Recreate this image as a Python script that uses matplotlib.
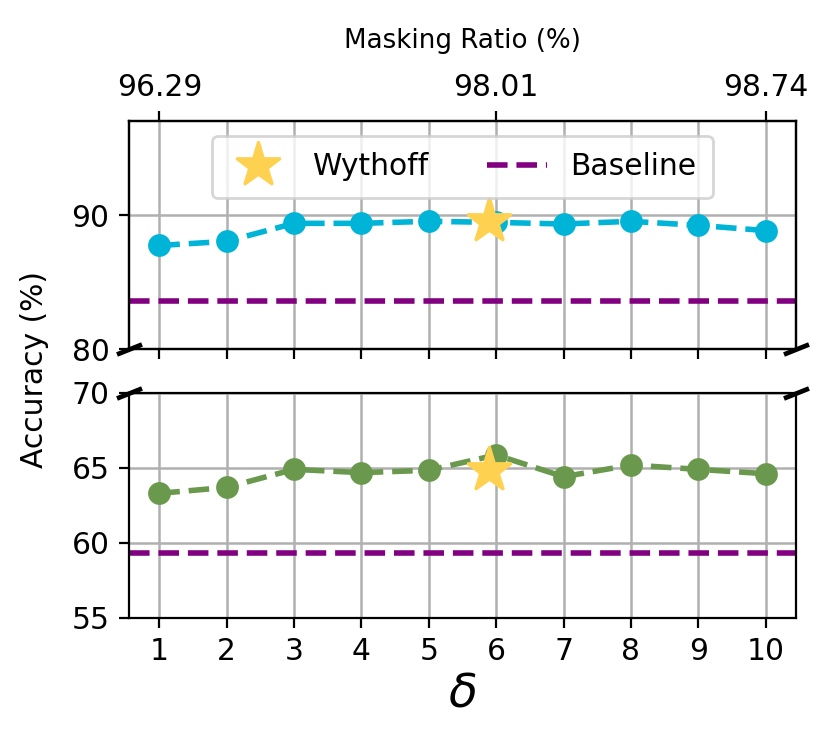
import matplotlib
matplotlib.use("Agg")
import matplotlib.pyplot as plt

delta = [1, 2, 3, 4, 5, 6, 7, 8, 9, 10]
top_acc = [87.73, 88.04, 89.38, 89.38, 89.53, 89.45, 89.33, 89.53, 89.23, 88.84]
bottom_acc = [63.29, 63.69, 64.89, 64.67, 64.83, 65.85, 64.40, 65.18, 64.89, 64.60]
top_baseline = 83.58
bottom_baseline = 59.29
wythoff_x = 5.9
wythoff_top = 89.53
wythoff_bottom = 64.85
mask_ticks = [1, 6, 10]
mask_labels = ["96.29", "98.01", "98.74"]

CYAN = "#00B4D8"
GREEN = "#6A994E"
GOLD = "#FFD150"
PURPLE = "purple"

fig = plt.figure(figsize=(8.30 / 2, 7.48 / 2), dpi=200)
L, R = 129 / 830, 796 / 830
ax1 = fig.add_axes([L, 1 - 349.3 / 748, R - L, (349.3 - 121) / 748])
ax2 = fig.add_axes([L, 1 - 617.7 / 748, R - L, (617.7 - 392.7) / 748])

FS = 10.7
for ax, vals, base, wy, col in [(ax1, top_acc, top_baseline, wythoff_top, CYAN),
                                (ax2, bottom_acc, bottom_baseline, wythoff_bottom, GREEN)]:
    ax.grid(True, color="#b0b0b0", lw=0.9, zorder=0)
    ax.set_axisbelow(True)
    ax.plot(delta, vals, ls="--", lw=2, color=col, marker="o", ms=7.2, zorder=3)
    ax.axhline(base, ls="--", lw=2, color=PURPLE, zorder=2, label="Baseline")
    ax.plot([wythoff_x], [wy], ls="none", marker="*", ms=17, color=GOLD, zorder=4, label="Wythoff")
    ax.set_xlim(0.55, 10.45)
    ax.set_xticks(delta)
    ax.tick_params(labelsize=FS)

ax1.set_ylim(80, 97)
ax1.set_yticks([80, 90])
ax1.tick_params(labelbottom=False)
ax2.set_ylim(55, 70)
ax2.set_yticks([55, 60, 65, 70])

h, l = ax1.get_legend_handles_labels()
ax1.legend([h[1], h[0]], [l[1], l[0]], loc="upper center", ncol=2, fontsize=FS,
           columnspacing=2.0, handlelength=2.0, borderpad=0.55)

axt = ax1.twiny()
axt.set_xlim(ax1.get_xlim())
axt.set_xticks(mask_ticks)
axt.set_xticklabels(mask_labels)
axt.tick_params(labelsize=FS)
axt.set_xlabel("Masking Ratio (%)", fontsize=9.4, labelpad=9)

d = 0.4
kw = dict(marker=[(-1, -d), (1, d)], markersize=9, linestyle="none", color="k",
          mec="k", mew=1.7, clip_on=False)
ax1.plot([0, 1], [0, 0], transform=ax1.transAxes, **kw)
ax2.plot([0, 1], [1, 1], transform=ax2.transAxes, **kw)

ax2.set_xlabel(r"$\delta$", fontsize=17, labelpad=2)
fig.text(0.042, 1 - 369 / 748, "Accuracy (%)", rotation=90, ha="center", va="center", fontsize=FS)

fig.savefig("out.png", dpi=200)
